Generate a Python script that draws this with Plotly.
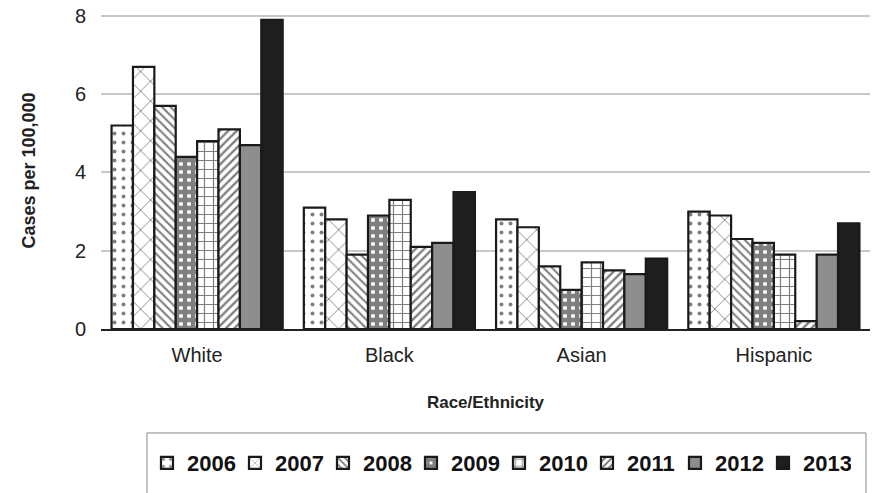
import plotly.graph_objects as go

categories = ["White", "Black", "Asian", "Hispanic"]
years = ["2006", "2007", "2008", "2009", "2010", "2011", "2012", "2013"]
v2006 = [5.2, 3.1, 2.8, 3.0]
v2007 = [6.7, 2.8, 2.6, 2.9]
v2008 = [5.7, 1.9, 1.6, 2.3]
v2009 = [4.4, 2.9, 1.0, 2.2]
v2010 = [4.8, 3.3, 1.7, 1.9]
v2011 = [5.1, 2.1, 1.5, 0.2]
v2012 = [4.7, 2.2, 1.4, 1.9]
v2013 = [7.9, 3.5, 1.8, 2.7]
series = [v2006, v2007, v2008, v2009, v2010, v2011, v2012, v2013]

styles = [
    dict(color="white", pattern=dict(shape=".", fgcolor="black", bgcolor="white", size=9, solidity=0.15)),
    dict(color="white", pattern=dict(shape="x", fgcolor="black", bgcolor="white", size=14, solidity=0.12)),
    dict(color="white", pattern=dict(shape="\\", fgcolor="black", bgcolor="white", size=6, solidity=0.35)),
    dict(color="black", pattern=dict(shape="+", fgcolor="#000000", bgcolor="white", size=8, solidity=0.8)),
    dict(color="white", pattern=dict(shape="+", fgcolor="black", bgcolor="white", size=9, solidity=0.25)),
    dict(color="white", pattern=dict(shape="/", fgcolor="black", bgcolor="white", size=6, solidity=0.4)),
    dict(color="#8e8e8e"),
    dict(color="#1e1e1e"),
]

fig = go.Figure()
for y, vals, st in zip(years, series, styles):
    marker = dict(line=dict(color="#1a1a1a", width=2.2))
    marker.update(st)
    fig.add_trace(go.Bar(x=categories, y=vals, name="<b>" + y + "</b>", marker=marker))

font = "Liberation Sans, Arial, sans-serif"
fig.update_layout(
    width=873, height=493,
    margin=dict(l=101, r=3, t=12, b=164, autoexpand=False),
    plot_bgcolor="white", paper_bgcolor="white",
    barmode="group", bargap=0.11, bargroupgap=0,
    font=dict(family=font, size=20, color="#222222"),
    xaxis=dict(
        title=dict(text="<b>Race/Ethnicity</b>", font=dict(size=17), standoff=31),
        showline=True, linecolor="#222222", linewidth=1.5,
        ticks="", tickfont=dict(size=20), ticklabelstandoff=7,
    ),
    yaxis=dict(
        title=dict(text="<b>Cases per 100,000</b>", font=dict(size=18), standoff=34),
        range=[0, 8.1], tickvals=[0, 2, 4, 6, 8], showgrid=True,
        gridcolor="#c8c8c8", gridwidth=2,
        zeroline=False, showline=False, ticks="", tickfont=dict(size=20),
        ticklabelstandoff=14,
    ),
    legend=dict(
        orientation="h", x=0.0598, xanchor="left", y=-0.4230, yanchor="middle",
        font=dict(size=22, color="#111111", family=font),
        itemwidth=30, entrywidth=43, entrywidthmode="pixels",
        bgcolor="rgba(0,0,0,0)", traceorder="normal",
    ),
    showlegend=True,
    shapes=[dict(type="rect", xref="paper", yref="paper",
                 x0=0.0598, x1=0.9948, y0=-0.328, y1=-0.6,
                 line=dict(color="#888888", width=1))],
)

fig.write_html("out.html", config={"displayModeBar": False},
               post_script="document.body.style.margin='0';")
